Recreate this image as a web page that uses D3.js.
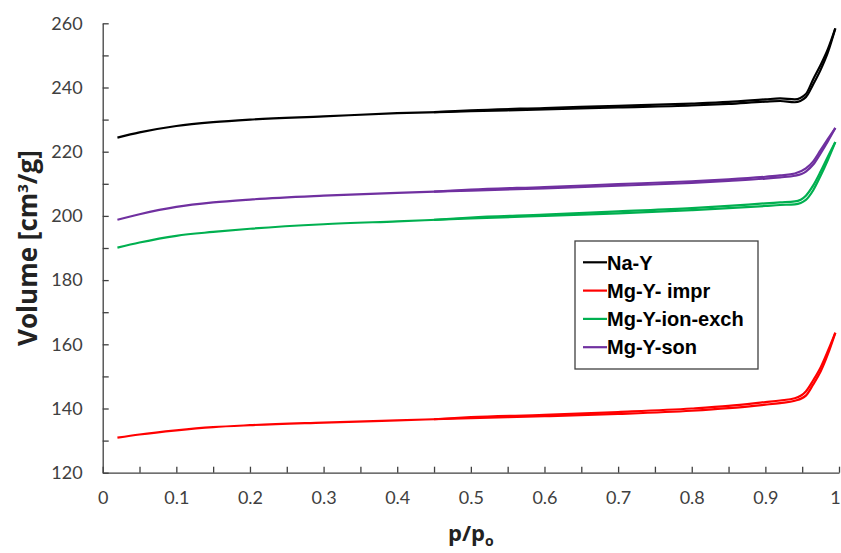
<!DOCTYPE html>
<html>
<head>
<meta charset="utf-8">
<script src="https://cdn.jsdelivr.net/npm/d3@7"></script>
<style>
body{margin:0;background:#fff;}
.axis text{font-family:Lato, "Open Sans", sans-serif;font-size:18px;fill:#404040;}
.axis path,.axis line{stroke:#404040;stroke-width:1.3px;}
.title{font-family:"Open Sans", Lato, sans-serif;font-weight:bold;fill:#222;}
.legend text{font-family:"Liberation Sans", Arial, sans-serif;font-weight:bold;font-size:20px;fill:#000;}
</style>
</head>
<body>
<div id="chart"></div>
<script>
// relative pressure points, adsorption branch (up) and desorption branch (down)
var pAds=[0.02,0.05,0.1,0.15,0.2,0.3,0.4,0.5,0.6,0.7,0.8,0.85,0.9,0.92,0.94,0.955,0.965,0.975,0.985,0.995]
var pDes=[0.45,0.5,0.6,0.7,0.8,0.85,0.9,0.92,0.94,0.955,0.965,0.975,0.985,0.995]

var seriesNames=["Na-Y","Mg-Y- impr","Mg-Y-ion-exch","Mg-Y-son"]
var seriesColors=["#000000","#ff0000","#00b050","#7030a0"]

var naY_ads=[224.4,226,228,229.2,230,231,232,232.6,233.2,233.8,234.4,234.9,235.6,235.8,235.4,237,241,245.5,251,258.4]
var naY_des=[232.3,232.9,233.6,234.3,235,235.5,236.3,236.6,236.3,238,242.6,247,252,258.4]

var impr_ads=[130.9,131.9,133.2,134.2,134.8,135.6,136.3,137,137.6,138.3,139.3,140.1,141.2,141.7,142.4,144,147.5,151.5,157,163.6]
var impr_des=[136.65,137.3,138.0,138.9,140.0,140.8,142.0,142.5,143.2,145.3,148.8,152.8,158,163.6]

var ion_ads=[190.1,191.7,193.8,195,196,197.4,198.3,199.2,200,200.8,201.8,202.4,203.1,203.4,203.6,205,208,212.5,217.5,223]
var ion_des=[198.75,199.5,200.4,201.4,202.4,203.1,203.9,204.2,204.5,206.3,209.5,213.8,218.5,223]

var son_ads=[198.8,200.5,202.8,204.2,205.1,206.3,207.2,207.9,208.6,209.4,210.3,210.9,211.6,212,212.5,213.8,216,219.5,223.3,227.4]
var son_des=[207.55,208.2,209.0,209.9,210.8,211.4,212.2,212.6,213.2,214.8,217,220.5,224,227.4]

var yTicks=d3.range(120,261,10)
var xTicks=d3.range(0,1.0001,0.05)

var width=841, height=553
var margin={left:102.7,right:2,top:23.3,bottom:80.3}

var svg=d3.select("#chart").append("svg").attr("width",width).attr("height",height)

var x=d3.scaleLinear().domain([0,1]).range([margin.left,width-margin.right])
var y=d3.scaleLinear().domain([120,260]).range([height-margin.bottom,margin.top])

var line=d3.line()
	.x(function(d){return x(d[0])})
	.y(function(d){return y(d[1])})
	.curve(d3.curveMonotoneX)

function zip(px,vals){
	return px.map(function(p,i){return [p,vals[i]]})
}

var data=[
	{name:seriesNames[0],color:seriesColors[0],ads:zip(pAds,naY_ads),des:zip(pDes,naY_des)},
	{name:seriesNames[1],color:seriesColors[1],ads:zip(pAds,impr_ads),des:zip(pDes,impr_des)},
	{name:seriesNames[2],color:seriesColors[2],ads:zip(pAds,ion_ads),des:zip(pDes,ion_des)},
	{name:seriesNames[3],color:seriesColors[3],ads:zip(pAds,son_ads),des:zip(pDes,son_des)}
]

// axes
svg.append("g").attr("class","axis")
	.attr("transform","translate("+margin.left+",0)")
	.call(d3.axisLeft(y).tickValues(yTicks).tickSize(-6).tickSizeOuter(0).tickPadding(20)
		.tickFormat(function(d){return d%20==0 ? d : ""}))

var xAxis=svg.append("g").attr("class","axis")
	.attr("transform","translate(0,"+(height-margin.bottom)+")")
	.call(d3.axisBottom(x).tickValues(xTicks).tickSize(-6).tickSizeOuter(0).tickPadding(19)
		.tickFormat(function(d){
			var r=Math.round(d*100)
			return r%10==0 ? d3.format("")(r/100) : ""
		}))
// last label sits on the page edge
xAxis.selectAll(".tick text").filter(function(d){return d>0.99}).attr("dx","-4")

// curves, draw order so the black is on top like the original
var order=[1,2,3,0]
order.forEach(function(i){
	var s=data[i]
	svg.append("path").datum(s.ads).attr("d",line)
		.attr("fill","none").attr("stroke",s.color).attr("stroke-width",2.2)
	svg.append("path").datum(s.des).attr("d",line)
		.attr("fill","none").attr("stroke",s.color).attr("stroke-width",2.2)
})

// axis titles
svg.append("text").attr("class","title")
	.attr("transform","translate(37,"+((margin.top+height-margin.bottom)/2)+") rotate(-90)")
	.attr("text-anchor","middle")
	.style("font-size","26px")
	.html('Volume [cm<tspan dy="-9" font-size="15px">3</tspan><tspan dy="9">/g]</tspan>')

svg.append("text").attr("class","title")
	.attr("x",x(0.5)).attr("y",541)
	.attr("text-anchor","middle")
	.style("font-size","22px")
	.html('p/p<tspan dy="5" font-size="14px">o</tspan>')

// legend
var lg=svg.append("g").attr("class","legend")
lg.append("rect").attr("x",575).attr("y",241).attr("width",183).attr("height",128)
	.attr("fill","#fff").attr("stroke","#404040").attr("stroke-width",1.3)

data.forEach(function(s,i){
	var cy=262.3+i*28.3
	lg.append("line").attr("x1",583).attr("x2",607).attr("y1",cy).attr("y2",cy)
		.attr("stroke",s.color).attr("stroke-width",2.2)
	lg.append("text").attr("x",607).attr("y",cy).attr("dy","0.36em").text(s.name)
})
</script>
</body>
</html>
